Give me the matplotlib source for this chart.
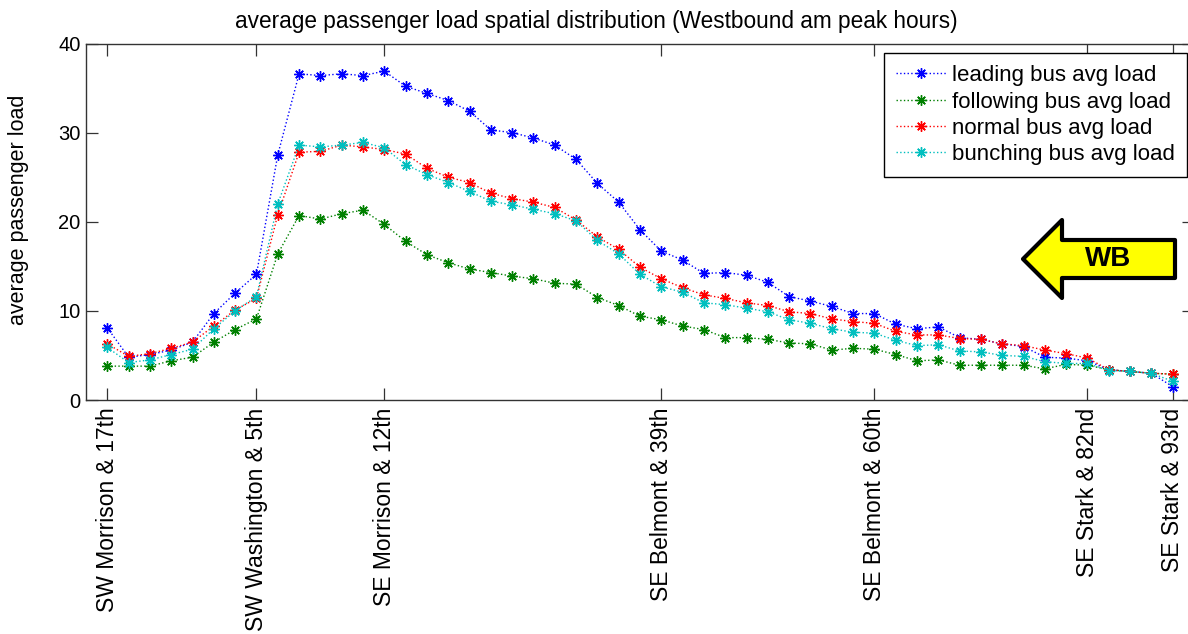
import matplotlib
matplotlib.use('Agg')
import matplotlib.pyplot as plt
from matplotlib.patches import Polygon

# ---------------- data ----------------
stops = list(range(1, 52))

leading = [8.1, 4.8, 5.1, 5.6, 6.5, 9.7, 12.0, 14.1, 27.5, 36.6,
           36.4, 36.6, 36.4, 36.9, 35.2, 34.4, 33.6, 32.4, 30.3, 30.0,
           29.4, 28.6, 27.0, 24.3, 22.2, 19.1, 16.7, 15.7, 14.2, 14.3,
           14.0, 13.2, 11.6, 11.1, 10.5, 9.7, 9.7, 8.5, 8.0, 8.2,
           7.0, 6.8, 6.3, 6.0, 4.8, 4.7, 4.4, 3.4, 3.2, 3.0, 1.5]

following = [3.8, 3.8, 3.8, 4.4, 4.8, 6.5, 7.9, 9.1, 16.4, 20.7,
             20.3, 20.9, 21.3, 19.7, 17.8, 16.3, 15.4, 14.7, 14.3, 13.9,
             13.6, 13.1, 13.0, 11.5, 10.6, 9.4, 9.0, 8.3, 7.9, 7.0,
             7.0, 6.8, 6.4, 6.3, 5.6, 5.8, 5.7, 5.1, 4.4, 4.5,
             3.9, 3.9, 3.9, 3.9, 3.5, 4.0, 3.9, 3.4, 3.2, 3.0, 2.9]

normal = [6.3, 4.9, 5.2, 5.8, 6.5, 8.3, 10.1, 11.4, 20.8, 27.8,
          27.9, 28.6, 28.4, 28.1, 27.6, 26.0, 25.0, 24.4, 23.2, 22.6,
          22.2, 21.6, 20.2, 18.3, 16.9, 14.9, 13.6, 12.6, 11.8, 11.4,
          10.9, 10.6, 9.9, 9.7, 9.1, 8.8, 8.6, 7.7, 7.3, 7.3,
          6.9, 6.8, 6.3, 6.1, 5.6, 5.2, 4.7, 3.4, 3.2, 3.0, 2.9]

bunching = [5.9, 4.2, 4.5, 5.1, 5.7, 8.0, 10.0, 11.6, 22.0, 28.6,
            28.4, 28.6, 28.9, 28.3, 26.4, 25.3, 24.4, 23.4, 22.3, 21.9,
            21.4, 20.9, 20.1, 17.9, 16.4, 14.1, 12.7, 12.1, 10.9, 10.7,
            10.3, 9.9, 9.0, 8.6, 8.0, 7.6, 7.5, 6.7, 6.1, 6.2,
            5.5, 5.4, 5.0, 4.9, 4.3, 4.1, 4.1, 3.3, 3.2, 3.0, 2.1]

tick_positions = [1, 8, 14, 27, 37, 47, 51]
tick_labels = ['SW Morrison & 17th', 'SW Washington & 5th', 'SE Morrison & 12th',
               'SE Belmont & 39th', 'SE Belmont & 60th', 'SE Stark & 82nd',
               'SE Stark & 93rd']
y_ticks = [0, 10, 20, 30, 40]

series_names = ['leading bus avg load', 'following bus avg load',
                'normal bus avg load', 'bunching bus avg load']
series_colors = ['#0000ff', '#008000', '#ff0000', '#00bfbf']

title_text = 'average passenger load spatial distribution (Westbound am peak hours)'
y_label = 'average passenger load'

# ---------------- figure ----------------
plt.rcParams['font.family'] = ['Liberation Sans', 'DejaVu Sans']
W, H = 1188, 634
fig = plt.figure(figsize=(W / 100, H / 100), dpi=100)
ax = fig.add_axes([86 / W, (H - 400) / H, (1194 - 86) / W, (400 - 43.5) / H])

for vals, col, name in zip([leading, following, normal, bunching],
                           series_colors, series_names):
    ax.plot(stops, vals, linestyle=':', linewidth=1.0, color=col,
            marker=(8, 2, 0), markersize=7.5, markeredgewidth=1.0,
            markeredgecolor=col, label=name)

ax.set_xlim(0, 52)
ax.set_ylim(0, 40)
ax.set_xticks(tick_positions)
ax.set_xticklabels(tick_labels, rotation=90, fontsize=16.5)
ax.set_yticks(y_ticks)
ax.tick_params(direction='in', length=8.3, width=0.9, top=True, right=True,
               colors='#333333', labelcolor='black')
ax.tick_params(axis='x', pad=5.5)
ax.tick_params(axis='y', labelsize=14.5, pad=4)
for sp in ax.spines.values():
    sp.set_color('#333333')
    sp.set_linewidth(1.0)

ax.set_title(title_text, fontsize=16.3, pad=11.5, x=(596 - 86) / 1108)
ax.set_ylabel(y_label, fontsize=15.5, va='center')
ax.yaxis.set_label_coords((19 - 86) / 1108, (400 - 210) / 356.5)

leg = ax.legend(loc='upper right', bbox_to_anchor=((1187 - 86) / 1108, (400 - 53) / 356.5),
                borderaxespad=0, fontsize=16, frameon=True, fancybox=False,
                framealpha=1, edgecolor='black', handlelength=2.25,
                handletextpad=0.27, borderpad=0.55, labelspacing=0.24)
leg.get_frame().set_linewidth(1.0)

# ---------------- WB arrow (annotation) ----------------
def px(x, y):
    return (x / W, (H - y) / H)

arrow_pts = [px(1023, 259), px(1062, 220), px(1062, 240), px(1175, 240),
             px(1175, 278), px(1062, 278), px(1062, 298)]
fig.add_artist(Polygon(arrow_pts, closed=True, facecolor='#ffff00',
                       edgecolor='black', linewidth=3, joinstyle='round',
                       transform=fig.transFigure))
fig.text(1108 / W, (H - 259) / H, 'WB', fontsize=20, fontweight='bold',
         ha='center', va='center')

fig.savefig('out.png', dpi=100)
